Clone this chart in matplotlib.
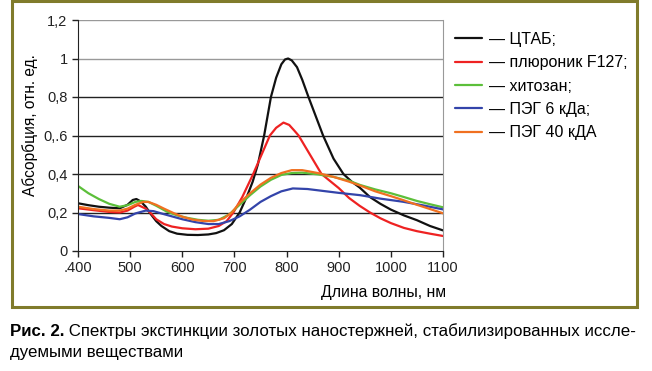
import numpy as np
import matplotlib
matplotlib.use("Agg")
import matplotlib.pyplot as plt
from matplotlib.patches import Rectangle

plt.rcParams['font.family'] = ['Liberation Sans', 'DejaVu Sans']

# -------------------------------------------------
# DATA
# -------------------------------------------------
wl_ctab = [400, 420, 440, 460, 480, 495, 505, 512, 520, 530, 540, 550, 560, 575, 590, 610,
           630, 650, 665, 680, 695, 710, 725, 735, 745, 757, 770, 780, 790, 797, 803, 810,
           820, 830, 842, 856, 870, 890, 909, 925, 940, 960, 980, 1000, 1025, 1050, 1075, 1100]
ctab = [0.248, 0.238, 0.23, 0.225, 0.222, 0.24, 0.265, 0.27, 0.258, 0.23, 0.19, 0.155,
        0.13, 0.103, 0.09, 0.084, 0.083, 0.086, 0.093, 0.108, 0.14, 0.2, 0.29, 0.36, 0.45,
        0.6, 0.8, 0.9, 0.97, 0.995, 1.0, 0.99, 0.955, 0.89, 0.8, 0.7, 0.6, 0.48, 0.4,
        0.36, 0.33, 0.28, 0.245, 0.215, 0.185, 0.16, 0.13, 0.107]

wl_red = [400, 430, 460, 480, 495, 508, 515, 530, 540, 550, 565, 580, 600, 625, 650, 670,
          685, 698, 715, 736, 752, 768, 780, 794, 805, 815, 823, 845, 867, 885, 900, 920,
          940, 960, 980, 1000, 1025, 1050, 1075, 1100]
pluronic = [0.222, 0.212, 0.203, 0.2, 0.21, 0.23, 0.239, 0.22, 0.195, 0.165, 0.14, 0.127,
            0.118, 0.113, 0.116, 0.13, 0.155, 0.2, 0.28, 0.4, 0.5, 0.6, 0.64, 0.667, 0.655,
            0.625, 0.6, 0.5, 0.4, 0.36, 0.327, 0.275, 0.235, 0.2, 0.17, 0.145, 0.12, 0.103,
            0.09, 0.078]

wl_green = [400, 420, 440, 460, 480, 495, 510, 522, 535, 550, 570, 590, 610, 630, 650, 670,
            690, 710, 730, 750, 770, 790, 810, 830, 860, 890, 920, 941, 970, 1000, 1023,
            1050, 1075, 1100]
chitosan = [0.338, 0.3, 0.27, 0.245, 0.23, 0.238, 0.255, 0.26, 0.255, 0.235, 0.205, 0.185,
            0.172, 0.162, 0.157, 0.162, 0.19, 0.24, 0.29, 0.335, 0.37, 0.395, 0.405, 0.407,
            0.398, 0.385, 0.365, 0.343, 0.32, 0.3, 0.282, 0.26, 0.243, 0.227]

wl_blue = [400, 430, 460, 480, 495, 510, 530, 545, 560, 580, 600, 625, 650, 670, 690, 710,
           730, 750, 770, 790, 812, 840, 870, 900, 941, 980, 1023, 1060, 1100]
peg6 = [0.192, 0.18, 0.172, 0.165, 0.175, 0.195, 0.21, 0.207, 0.195, 0.18, 0.165, 0.15,
        0.14, 0.14, 0.155, 0.18, 0.215, 0.255, 0.285, 0.31, 0.325, 0.322, 0.312, 0.302,
        0.29, 0.272, 0.256, 0.238, 0.216]

wl_orange = [400, 430, 460, 480, 495, 510, 525, 535, 550, 565, 585, 600, 620, 640, 660, 680,
             695, 710, 730, 750, 770, 790, 810, 830, 860, 890, 920, 941, 970, 1000, 1023,
             1050, 1075, 1100]
peg40 = [0.23, 0.218, 0.21, 0.21, 0.22, 0.24, 0.255, 0.255, 0.24, 0.22, 0.195, 0.178,
         0.163, 0.156, 0.155, 0.17, 0.2, 0.25, 0.3, 0.345, 0.38, 0.405, 0.42, 0.42, 0.405,
         0.385, 0.36, 0.34, 0.31, 0.285, 0.265, 0.24, 0.218, 0.196]

labels = ['— ЦТАБ;', '— плюроник F127;', '— хитозан;', '— ПЭГ 6 кДа;', '— ПЭГ 40 кДА']
colors = ['#111111', '#ee2222', '#5cbf3a', '#3344aa', '#f07020']

xticks = [400, 500, 600, 700, 800, 900, 1000, 1100]
xticklabels = ['.400', '500', '600', '700', '800', '900', '1000', '1100']
yticks = [0, 0.2, 0.4, 0.6, 0.8, 1.0, 1.2]
yticklabels = ['0', '0,2', '0,4', '0,.6', '0,8', '1', '1,2']

# -------------------------------------------------
# FIGURE
# -------------------------------------------------
W, H = 652, 371
fig = plt.figure(figsize=(W / 100, H / 100), dpi=100)
ax = fig.add_axes([78 / W, 1 - 251 / H, 365 / W, 231 / H])

series = [(wl_ctab, ctab), (wl_red, pluronic), (wl_green, chitosan),
          (wl_blue, peg6), (wl_orange, peg40)]
for (xs, ys), lab, c in zip(series, labels, colors):
    ax.plot(xs, ys, color=c, lw=1.6, label=lab, solid_capstyle='round',
            solid_joinstyle='round')

ax.set_xlim(400, 1100)
ax.set_ylim(0, 1.2)
ax.set_xticks(xticks)
ax.set_xticklabels(xticklabels)
ax.set_yticks(yticks)
ax.set_yticklabels(yticklabels)
ax.tick_params(labelsize=10.5, length=4, width=1, colors='#222222')

for y in yticks[1:]:
    gc = '#999999' if y >= 1.0 else '#222222'
    ax.axhline(y, color=gc, lw=1.0, zorder=0)

ax.spines['top'].set_visible(False)
ax.spines['right'].set_color('#999999')
ax.spines['left'].set_color('#222222')
ax.spines['bottom'].set_color('#222222')

fig.text(30 / W, 1 - 125 / H, 'Абсорбция, отн. ед.', rotation=90,
         ha='center', va='center', fontsize=11.2)
fig.text(446 / W, 1 - 292 / H, 'Длина волны, нм', ha='right', va='center', fontsize=11.3)

leg = ax.legend(loc='upper left', bbox_to_anchor=(455 / W, 1 - 32 / H),
                bbox_transform=fig.transFigure, frameon=False, fontsize=11.5,
                handlelength=1.7, handletextpad=0.45, labelspacing=0.52,
                borderaxespad=0, borderpad=0)

# olive frame
fig.patches.append(Rectangle((12 / W, 1 - 307 / H), 625 / W, 306 / H,
                             transform=fig.transFigure, fill=False,
                             edgecolor='#807b2b', lw=2.2))

# caption
cap = fig.text(10 / W, 1 - 331 / H, 'Рис. 2.', fontsize=12.2, fontweight='bold', va='center')
ax.annotate(' Спектры экстинкции золотых наностержней, стабилизированных иссле-',
            xy=(1, 0.5), xycoords=cap, va='center', ha='left', fontsize=12.2)
fig.text(10 / W, 1 - 353 / H, 'дуемыми веществами', fontsize=12.2, va='center')

fig.savefig('out.png', dpi=100)
